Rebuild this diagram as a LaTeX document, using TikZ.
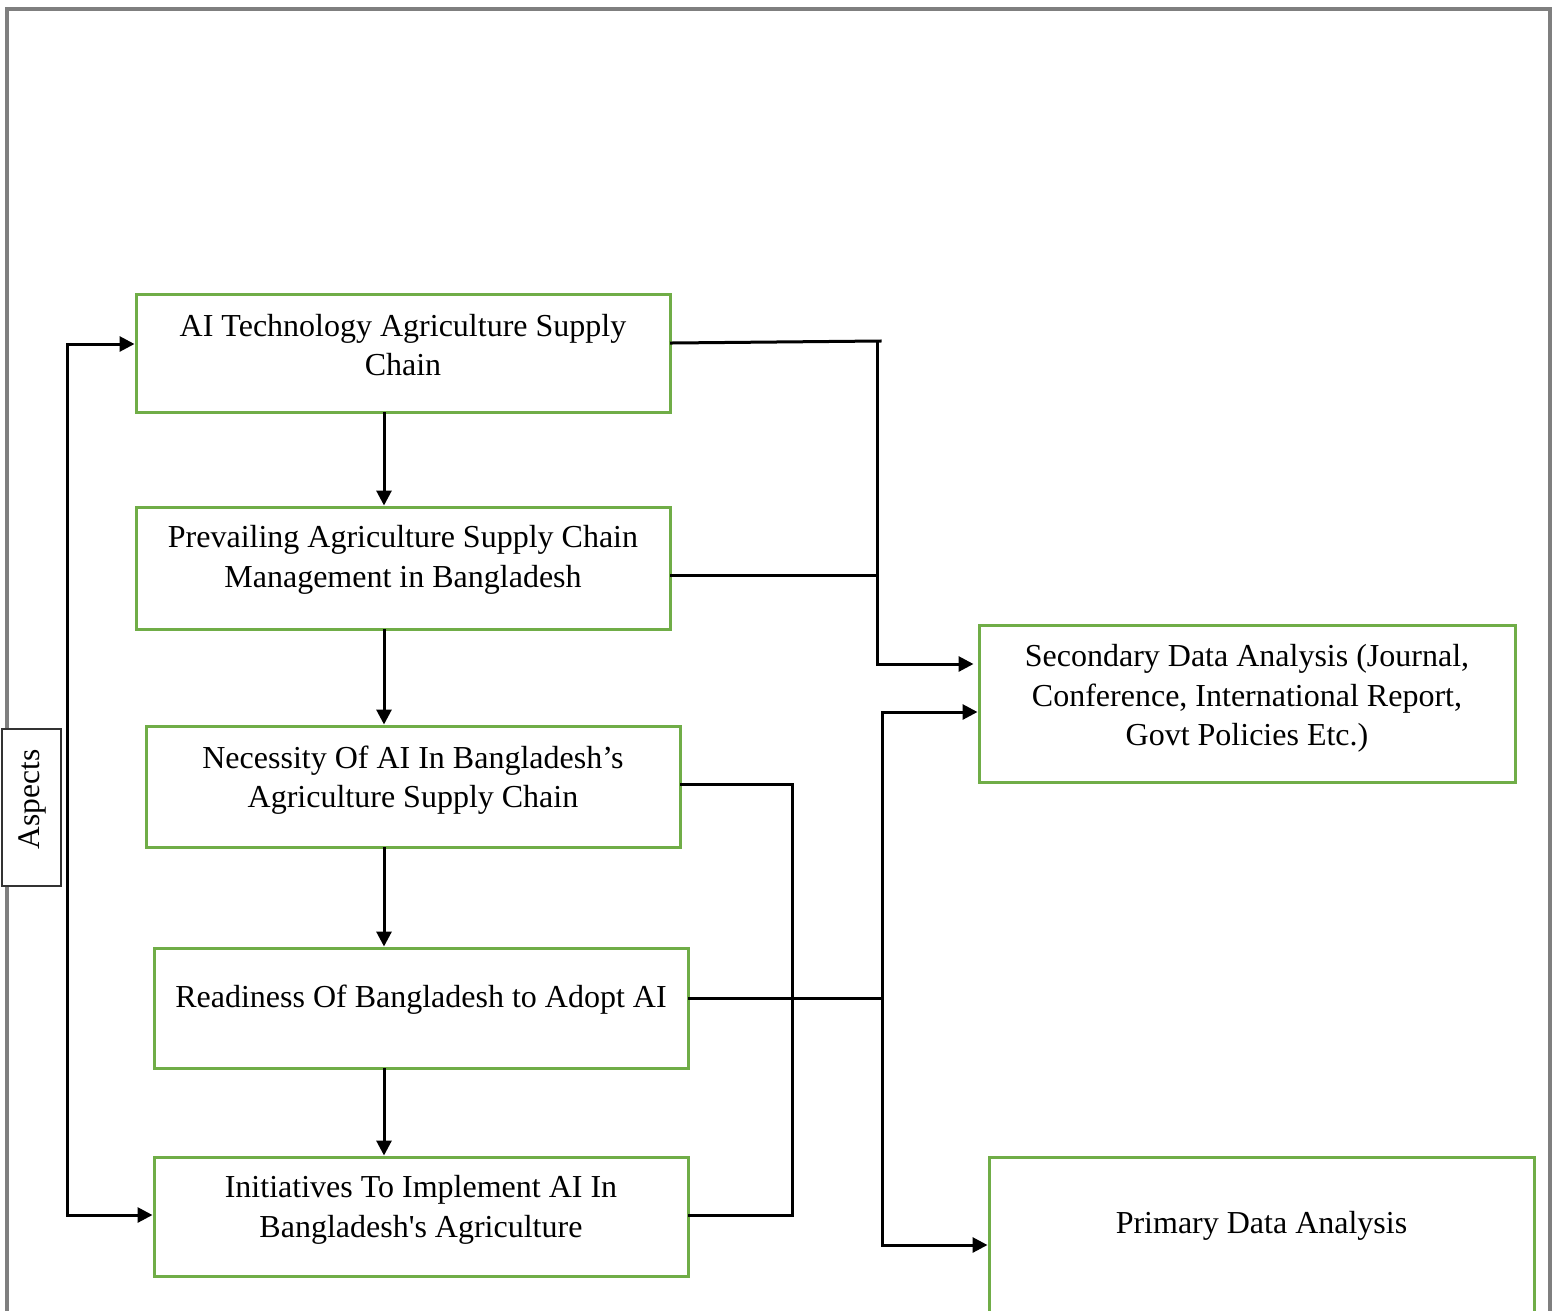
\documentclass[tikz,border=0pt]{standalone}
\usepackage{fontspec}
\setmainfont{Liberation Serif}
\usetikzlibrary{arrows.meta,calc}
\definecolor{boxgreen}{HTML}{70AD47}
\definecolor{framegray}{HTML}{7F7F7F}
\begin{document}
\begin{tikzpicture}[x=1pt,y=-1pt,
  box/.style={draw=boxgreen, line width=3pt, fill=white, rectangle, inner sep=0pt},
  lbl/.style={align=center, font=\fontsize{32}{39.5}\selectfont, inner sep=0pt},
  conn/.style={line width=3pt, line cap=rect},
  arr/.style={conn, -{Triangle[length=15pt,width=15pt]}},
]
\useasboundingbox (0,0) rectangle (1562,1310);
% outer frame
\draw[framegray, line width=3.2pt] (7,1330) -- (7,9) -- (1550,9) -- (1550,1330);

% boxes
\node[box, minimum width=534pt, minimum height=118pt,
  label={[lbl, yshift=8pt]center:AI Technology Agriculture Supply\\Chain}] (b1) at (403,353) {};
\node[box, minimum width=534pt, minimum height=122pt,
  label={[lbl, yshift=8pt]center:Prevailing Agriculture Supply Chain\\Management in Bangladesh}] (b2) at (403,568) {};
\node[box, minimum width=534pt, minimum height=121pt,
  label={[lbl, yshift=6.5pt]center:Necessity Of AI In Bangladesh’s\\Agriculture Supply Chain}] (b3) at (413,786.5) {};
\node[box, minimum width=534pt, minimum height=120pt,
  label={[lbl, yshift=8pt]center:Readiness Of Bangladesh to Adopt AI}] (b4) at (421,1008) {};
\node[box, minimum width=534pt, minimum height=119pt,
  label={[lbl, yshift=6.5pt]center:Initiatives To Implement AI In\\Bangladesh\textquotesingle s Agriculture}] (b5) at (421,1216.5) {};
\node[box, minimum width=536pt, minimum height=157pt,
  label={[lbl, yshift=5pt]center:Secondary Data Analysis (Journal,\\Conference, International Report,\\Govt Policies Etc.)}] (sec) at (1247,703.5) {};
\node[box, minimum width=545pt, minimum height=155pt,
  label={[lbl, yshift=8.5pt]center:Primary Data Analysis}] (prim) at (1261.5,1234.5) {};

% aspects
\node[draw=black!80, line width=1.5pt, fill=white, minimum width=59pt, minimum height=157pt,
  inner sep=0pt] (asp) at (31.5,807.5) {};
\node[rotate=90, font=\fontsize{31.5}{36}\selectfont, inner sep=0pt] (asptext) at ([yshift=8pt,xshift=1pt]asp.center) {Aspects};

% helper coordinates
\coordinate (vx) at (384,0);
\coordinate (lx) at (67,0);
\coordinate (r1) at (880,341);
\coordinate (rx) at (877,0);
\coordinate (vx2) at (792,0);
\coordinate (vx3) at (882,0);
\coordinate (b1in) at ([yshift=9pt]b1.west);
\coordinate (b1o) at ([yshift=10pt]b1.east);
\coordinate (b2o) at ([yshift=-7pt]b2.east);
\coordinate (b3o) at ([yshift=2.5pt]b3.east);
\coordinate (b4o) at ([yshift=10pt]b4.east);
\coordinate (b5o) at ([yshift=1.5pt]b5.east);
\coordinate (b5in) at ([yshift=1.5pt]b5.west);
\coordinate (s1) at ([yshift=39.5pt, xshift=-4pt]sec.west);
\coordinate (s2) at ([yshift=-8.5pt]sec.west);
\coordinate (p1) at ([yshift=-10.5pt]prim.west);

% vertical flow
\draw[arr] (b1.south -| vx) -- (b2.north -| vx);
\draw[arr] (b2.south -| vx) -- (b3.north -| vx);
\draw[arr] (b3.south -| vx) -- (b4.north -| vx);
\draw[arr] (b4.south -| vx) -- (b5.north -| vx);

% left aspects line
\draw[arr] (b5in -| lx) -- (b1in -| lx) -- (b1in);
\draw[arr] (b5in -| lx) -- (b5in);

% to secondary
\draw[conn] (b1o) -- (r1);
\draw[arr] (r1 -| rx) -- (s1 -| rx) -- (s1);
\draw[conn] (b2o) -- (b2o -| rx);

% b3 - b5 loop
\draw[conn] (b3o) -- (b3o -| vx2) -- (b5o -| vx2) -- (b5o);

% readiness to both
\draw[conn] (b4o) -- (b4o -| vx3);
\draw[arr] (s2 -| vx3) -- (s2);
\draw[arr] (s2 -| vx3) -- (p1 -| vx3) -- (p1);
\end{tikzpicture}
\end{document}
